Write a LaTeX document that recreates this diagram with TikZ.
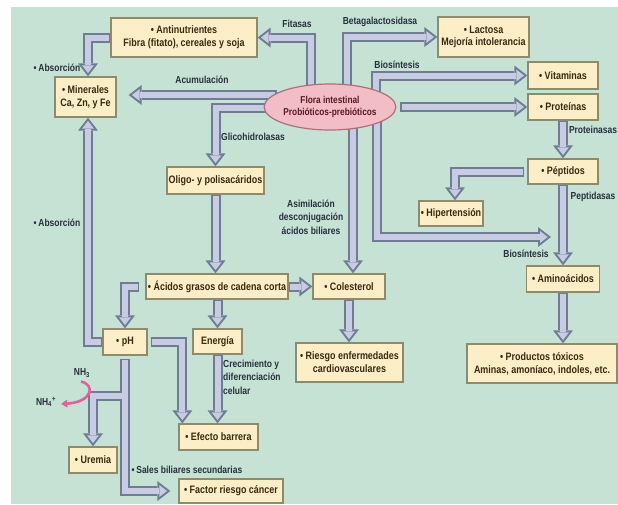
\documentclass[tikz,border=0pt]{standalone}
\usepackage{fontspec}
\newfontfamily\boxfont{Liberation Sans}[FakeStretch=0.83]
\usetikzlibrary{arrows.meta,calc,shapes.geometric}
\definecolor{bgc}{HTML}{C6E2D5}
\definecolor{boxfill}{HTML}{FCEFC8}
\definecolor{boxdraw}{HTML}{8E8B6C}
\definecolor{boxtext}{HTML}{3A2810}
\definecolor{labtext}{HTML}{27303C}
\definecolor{elfill}{HTML}{F2BDC7}
\definecolor{eldraw}{HTML}{B0707A}
\definecolor{eltext}{HTML}{5A1820}
\definecolor{arbord}{HTML}{6E7C94}
\definecolor{arfill}{HTML}{C8CCE2}
\definecolor{pinkar}{HTML}{E2609A}
\pgfdeclarelayer{bg}
\pgfdeclarelayer{bord}
\pgfdeclarelayer{fil}
\pgfsetlayers{bg,bord,fil,main}
\newcommand\fatar[1]{%
  \begin{pgfonlayer}{bord}\draw[fatouter] #1;\end{pgfonlayer}%
  \begin{pgfonlayer}{fil}\draw[fatinner] #1;\end{pgfonlayer}}
\tikzset{
  fatouter/.style={draw=arbord, line width=10pt, -{Triangle[width=20pt,length=13pt,line width=0pt]}},
  fatinner/.style={draw=arfill, line width=6pt, shorten >=3.3pt, shorten <=1.8pt, -{Triangle[width=11.8pt,length=7.7pt,line width=0pt]}},
  bx/.style={draw=boxdraw, fill=boxfill, line width=1.3pt, text=boxtext, font=\boxfont\bfseries\fontsize{10.8}{12.8}\selectfont, align=center, inner sep=0pt},
  lab/.style={text=labtext, font=\boxfont\bfseries\fontsize{10.2}{13.5}\selectfont, inner sep=0pt},
}
\begin{document}
\begin{tikzpicture}[x=1pt,y=-1pt]
\useasboundingbox (0,0) rectangle (618,504);
\begin{pgfonlayer}{bg}
\fill[white] (0,0) rectangle (618,504);
\fill[bgc] (11,7) rectangle (618,504);
\end{pgfonlayer}
% boxes
\node[bx, minimum width=146pt, minimum height=39pt] (anti) at (184,37.5) {\textbullet\ Antinutrientes\\Fibra (fitato), cereales y soja};
\node[bx, minimum width=61pt, minimum height=40pt] (min) at (85.5,97) {\textbullet\ Minerales\\Ca, Zn, y Fe};
\node[bx, minimum width=91pt, minimum height=40pt] (lac) at (483.5,37) {\textbullet\ Lactosa\\Mejoría intolerancia};
\node[bx, minimum width=70pt, minimum height=27pt] (vit) at (563,75.5) {\textbullet\ Vitaminas};
\node[bx, minimum width=70pt, minimum height=26pt] (pro) at (563,107) {\textbullet\ Proteínas};
\node[bx, minimum width=70pt, minimum height=25pt] (pep) at (563,171.5) {\textbullet\ Péptidos};
\node[bx, minimum width=64pt, minimum height=25pt] (hip) at (451,213.5) {\textbullet\ Hipertensión};
\node[bx, minimum width=73pt, minimum height=26pt] (ami) at (563,279) {\textbullet\ Aminoácidos};
\node[bx, minimum width=150pt, minimum height=39pt] (tox) at (542,363.5) {\textbullet\ Productos tóxicos\\Aminas, amoníaco, indoles, etc.};
\node[bx, minimum width=72pt, minimum height=25pt] (col) at (349,286.5) {\textbullet\ Colesterol};
\node[bx, minimum width=107pt, minimum height=39pt] (rie) at (349.5,362.5) {\textbullet\ Riesgo enfermedades\\cardiovasculares};
\node[bx, minimum width=142pt, minimum height=25pt] (acg) at (217,286.5) {\textbullet\ Ácidos grasos de cadena corta};
\node[bx, minimum width=97pt, minimum height=27pt] (oli) at (215.5,180.5) {Oligo- y polisacáridos};
\node[bx, minimum width=49pt, minimum height=25pt] (ene) at (217.5,341.5) {Energía};
\node[bx, minimum width=44pt, minimum height=26pt] (ph) at (125,342) {\textbullet\ pH};
\node[bx, minimum width=79pt, minimum height=26pt] (efe) at (218.5,437) {\textbullet\ Efecto barrera};
\node[bx, minimum width=48pt, minimum height=26pt] (ure) at (93,460) {\textbullet\ Uremia};
\node[bx, minimum width=104pt, minimum height=24pt] (fac) at (231,491) {\textbullet\ Factor riesgo cáncer};
\node[ellipse, draw=eldraw, fill=elfill, line width=1.2pt, minimum width=116pt, minimum height=46pt, inner sep=0pt, text=eltext, font=\boxfont\bfseries\fontsize{10}{12.5}\selectfont, align=center] (flora) at (330,107) {Flora intestinal\\Probióticos-prebióticos};
% labels
\node[lab] (lfit) at (297,24) {Fitasas};
\node[lab] (lbeta) at (380,22) {Betagalactosidasa};
\node[lab] (lbio1) at (397,65) {Biosíntesis};
\node[lab] (lacu) at (202,80) {Acumulación};
\node[lab] (lgli) at (253,137) {Glicohidrolasas};
\node[lab] (labs1) at (57,68) {\textbullet\,Absorción};
\node[lab] (labs2) at (57,223) {\textbullet\,Absorción};
\node[lab] (lprot) at (593,130) {Proteinasas};
\node[lab] (lpept) at (593,197) {Peptidasas};
\node[lab] (lbio2) at (526,254) {Biosíntesis};
\node[lab, align=center] (lasi) at (311,217) {Asimilación\\desconjugación\\ácidos biliares};
\node[lab, align=left, anchor=west] (lcre) at (223,377) {Crecimiento y\\diferenciación\\celular};
\node[lab] (lsal) at (187,470) {\textbullet\,Sales biliares secundarias};
\node[lab] (nh3) at (82,373) {NH\textsubscript{3}};
\node[lab] (nh4) at (46,402) {NH\textsubscript{4}\textsuperscript{+}};
\coordinate (bioend) at (551,237);
% fat arrows
\fatar{($(flora.north)+(-19,4)$) |- (anti.east)}
\fatar{($(flora.north)+(17,4)$) |- (lac.west)}
\fatar{($(flora.center)+(46,-10)$) |- (vit.west)}
\fatar{($(flora.east)+(4,0)$) -- (pro.west)}
\fatar{(pro.south) -- (pep.north)}
\fatar{($(pep.west)+(-3,0)$) -| ($(hip.north)+(4,0)$)}
\fatar{(pep.south) -- (ami.north)}
\fatar{(ami.south) -- (ami.south |- tox.north)}
\fatar{($(flora.center)+(47,9)$) |- (bioend)}
\fatar{($(flora.center)+(23,15)$) -- ($(col.north)+(4,0)$)}
\fatar{($(flora.west)+(13,-12)$) -- ($(min.east)+(12,-2)$)}
\fatar{($(flora.west)+(12,1)$) -| (oli.north)}
\fatar{(anti.west) -| ($(min.north)+(2.5,0)$)}
\fatar{(ph.west) -| ($(min.south)+(2.5,0)$)}
\fatar{($(acg.west)+(-6,0)$) -| (ph.north)}
\fatar{(oli.south) -- (oli.south |- acg.north)}
\fatar{(ene.north |- acg.south) -- (ene.north)}
\fatar{(acg.east) -- (col.west)}
\fatar{(col.south) -- (col.south |- rie.north)}
\fatar{($(ph.east)+(3,0)$) -| ($(efe.north west)+(4,0)$)}
\fatar{(ene.south) -- (ene.south |- efe.north)}
\fatar{($(ph.south)+(0,3)$) |- ($(fac.west)+(-8,0)$)}
\fatar{($(ph.south)+(0,40)$) -| (ure.north)}
% pink arrow
\draw[pinkar, line width=2.6pt, -{Triangle[width=8pt,length=6pt,line width=0pt]}] ($(nh3.south)+(-1,4)$) .. controls (96,385) and (92,402) .. ($(nh4.east)+(5,2)$);
\end{tikzpicture}
\end{document}
